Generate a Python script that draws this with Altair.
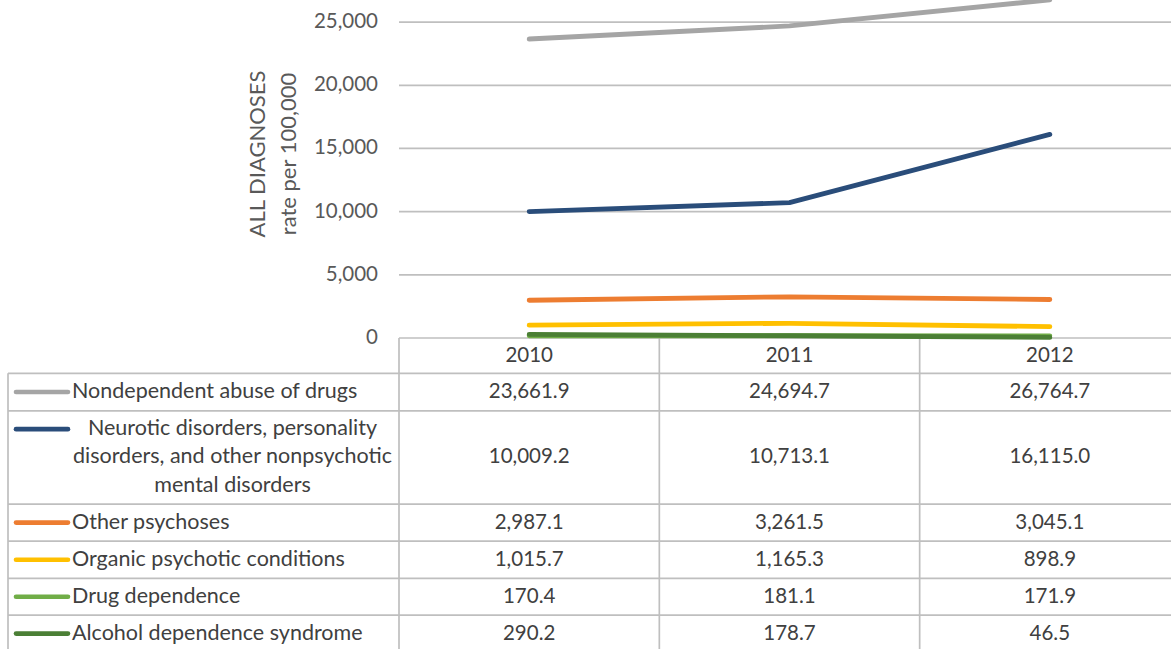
import altair as alt
import pandas as pd

# ---- data -------------------------------------------------------------
years = ["2010", "2011", "2012"]
series = [
    "Nondependent abuse of drugs",
    "Neurotic disorders, personality disorders, and other nonpsychotic mental disorders",
    "Other psychoses",
    "Organic psychotic conditions",
    "Drug dependence",
    "Alcohol dependence syndrome",
]
row_labels = [
    ["Nondependent abuse of drugs"],
    ["Neurotic disorders, personality", "disorders, and other nonpsychotic", "mental disorders"],
    ["Other psychoses"],
    ["Organic psychotic conditions"],
    ["Drug dependence"],
    ["Alcohol dependence syndrome"],
]
nondependent_abuse = [23661.9, 24694.7, 26764.7]
neurotic_disorders = [10009.2, 10713.1, 16115.0]
other_psychoses = [2987.1, 3261.5, 3045.1]
organic_psychotic = [1015.7, 1165.3, 898.9]
drug_dependence = [170.4, 181.1, 171.9]
alcohol_dependence = [290.2, 178.7, 46.5]
y_ticks = [0, 5000, 10000, 15000, 20000, 25000]
y_title = ["ALL DIAGNOSES", "rate per 100,000"]
colors = ["#A5A5A5", "#2A4D7A", "#ED7D31", "#FFC000", "#70AD47", "#4B7F35"]

values = [nondependent_abuse, neurotic_disorders, other_psychoses,
          organic_psychotic, drug_dependence, alcohol_dependence]

# ---- layout -----------------------------------------------------------
W, H = 1171, 649
FONT = "Lato"
TEXT = "#404040"
AXIS_TEXT = "#595959"
plot_left, plot_right, plot_bottom = 399, 1180, 338
table_left = 8
header_top, table_top = 338, 373.3
row_heights = [37.5, 93.3, 37.0, 37.3, 36.7, 37.0]
line_h = 28.3

row_tops = [table_top]
for h in row_heights:
    row_tops.append(row_tops[-1] + h)
row_centers = [row_tops[i] + row_heights[i] / 2 for i in range(len(row_heights))]
step = (plot_right - plot_left) / len(years)
col_edges = [plot_left + i * step for i in range(len(years))]

xscale = alt.Scale(type="point", domain=years, range=[plot_left, plot_right], padding=0.5)
yscale = alt.Scale(domain=[0, 26750], range=[plot_bottom, 0], nice=False, zero=True)
cscale = alt.Scale(domain=series, range=colors)

# ---- tables -----------------------------------------------------------
long_rows = []
for i, s in enumerate(series):
    for j, y in enumerate(years):
        long_rows.append({"series": s, "year": y, "value": values[i][j],
                          "cy": row_centers[i]})
df = pd.DataFrame(long_rows)

legend_rows = []
for i, s in enumerate(series):
    n = len(row_labels[i])
    first_line = row_centers[i] - (n - 1) / 2 * line_h
    legend_rows.append({
        "series": s,
        "label": row_labels[i] if n > 1 else row_labels[i][0],
        "multi": n > 1,
        "sy": first_line,
    })
df_leg = pd.DataFrame(legend_rows)

segs = []
segs.append({"x": table_left, "x2": W, "y": table_top, "y2": table_top})
for t in row_tops[1:]:
    segs.append({"x": table_left, "x2": W, "y": t, "y2": t})
segs.append({"x": table_left, "x2": table_left, "y": table_top, "y2": H + 5})
for e in col_edges:
    segs.append({"x": e, "x2": e, "y": header_top, "y2": H + 5})
df_segs = pd.DataFrame(segs)

# ---- layers -----------------------------------------------------------
grid = alt.Chart(pd.DataFrame({"v": y_ticks})).mark_rule(
    color="#BFBFBF", strokeWidth=1.7
).encode(
    y=alt.Y("v:Q", scale=yscale, axis=None),
    x=alt.value(plot_left), x2=alt.value(W),
)

tick_labels = alt.Chart(pd.DataFrame({"v": y_ticks})).mark_text(
    align="right", baseline="middle", font=FONT, fontSize=20.5, color=AXIS_TEXT
).encode(
    y=alt.Y("v:Q", scale=yscale, axis=None),
    x=alt.value(378),
    text=alt.Text("v:Q", format=","),
)

# two-line rotated axis title; anchor sits on the first line
title = alt.Chart(pd.DataFrame({"t": [y_title]})).mark_text(
    angle=270, align="center", baseline="middle", lineHeight=31,
    font=FONT, fontSize=22, color=AXIS_TEXT
).encode(x=alt.value(258), y=alt.value(154), text="t:N")

table_lines = alt.Chart(df_segs).mark_rule(color="#BFBFBF", strokeWidth=1.7).encode(
    x=alt.X("x:Q", scale=None), x2="x2:Q",
    y=alt.Y("y:Q", scale=None), y2="y2:Q",
)

lines = alt.Chart(df).mark_line(
    strokeWidth=4.8, strokeCap="round", strokeJoin="round"
).encode(
    x=alt.X("year:O", scale=xscale, axis=None),
    y=alt.Y("value:Q", scale=yscale, axis=None),
    color=alt.Color("series:N", scale=cscale, legend=None),
)

header = alt.Chart(pd.DataFrame({"year": years})).mark_text(
    align="center", baseline="middle", font=FONT, fontSize=20.5, color=TEXT
).encode(
    x=alt.X("year:O", scale=xscale, axis=None),
    y=alt.value((header_top + table_top) / 2),
    text="year:N",
)

cells = alt.Chart(df).mark_text(
    align="center", baseline="middle", font=FONT, fontSize=20.5, color=TEXT
).encode(
    x=alt.X("year:O", scale=xscale, axis=None),
    y=alt.Y("cy:Q", scale=None),
    text=alt.Text("value:Q", format=",.1f"),
)

swatches = alt.Chart(df_leg).mark_rule(strokeWidth=4.6, strokeCap="round").encode(
    x=alt.value(16), x2=alt.value(68),
    y=alt.Y("sy:Q", scale=None),
    color=alt.Color("series:N", scale=cscale, legend=None),
)

labels_single = alt.Chart(df_leg).transform_filter("!datum.multi").mark_text(
    align="left", baseline="middle", font=FONT, fontSize=21.5, color=TEXT
).encode(x=alt.value(72), y=alt.Y("sy:Q", scale=None), text="label:N")

labels_multi = alt.Chart(df_leg).transform_filter("datum.multi").mark_text(
    align="center", baseline="middle", lineHeight=line_h,
    font=FONT, fontSize=21.5, color=TEXT
).encode(x=alt.value(232.5), y=alt.Y("sy:Q", scale=None), text="label:N")

chart = alt.layer(
    grid, tick_labels, title, table_lines, lines,
    header, cells, swatches, labels_single, labels_multi,
).resolve_scale(
    x="independent", y="independent"
).properties(
    width=W, height=H, padding=0, autosize="none", background="white"
).configure_view(stroke=None)

chart.save("out.html", embed_options={"renderer": "svg", "actions": False})
